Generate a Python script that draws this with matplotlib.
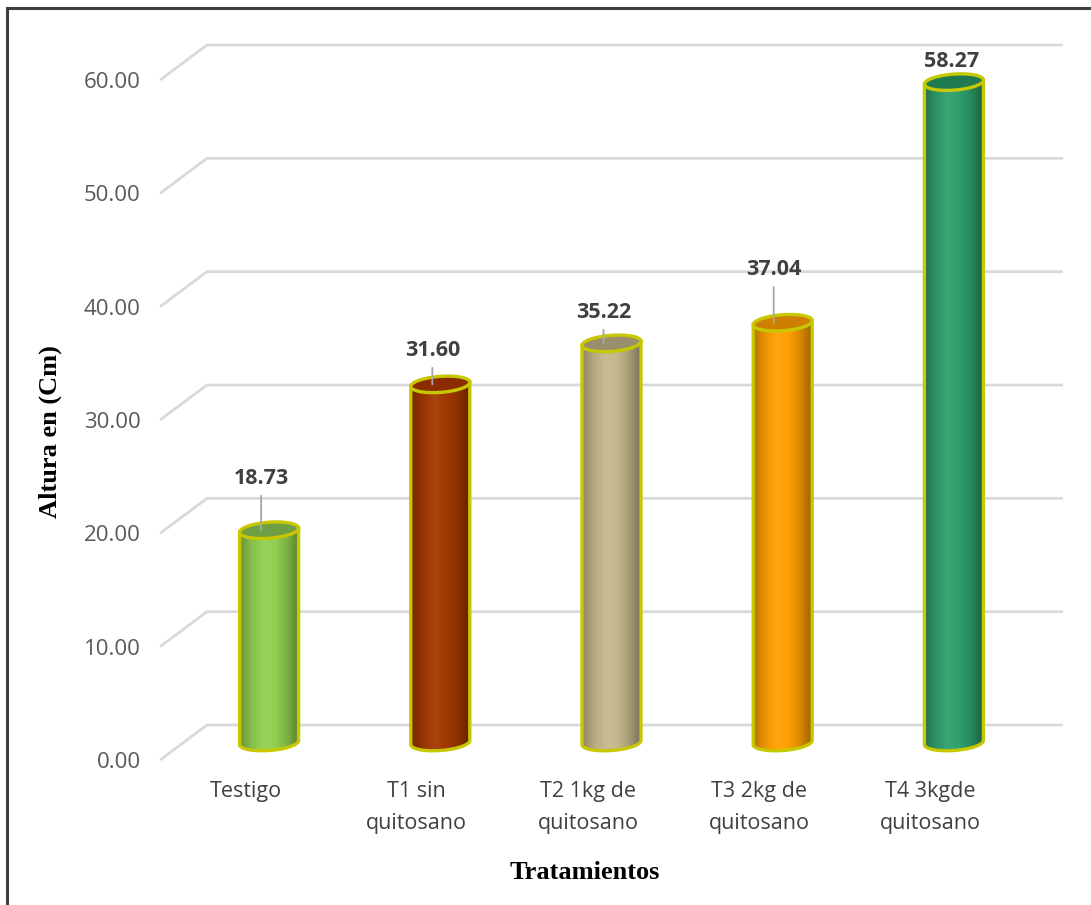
"""Cylinder bar chart of plant height per treatment."""

from __future__ import annotations

import matplotlib

matplotlib.use("Agg")
import matplotlib.pyplot as plt
from matplotlib.colors import LinearSegmentedColormap, to_rgb
from matplotlib.patches import Polygon, Rectangle
import numpy as np

categories = [
    "Testigo",
    "T1 sin\nquitosano",
    "T2 1kg de\nquitosano",
    "T3 2kg de\nquitosano",
    "T4 3kgde\nquitosano",
]
heights = [18.73, 31.60, 35.22, 37.04, 58.27]
y_ticks = [0, 10, 20, 30, 40, 50, 60]

body_colors = ["#92d050", "#a33800", "#c4b88c", "#ffa000", "#2f9f6c"]
top_colors = ["#6f9f45", "#8a2c00", "#9a8f6c", "#cf7f00", "#1f7a52"]
# label offsets above the cylinder top, in pixels (dx, dy) and leader flag
label_offsets = [(-8, 52), (-8, 34), (-8, 31), (-9, 53), (-2, 21)]
show_leader = [True, True, True, True, False]

W, H, DPI = 1091, 905, 100
EDGE = "#c8c800"
DEPTH_PX = (47, 35)  # back wall offset of the floor
HALF_W_PX = 29.5
HALF_H_PX = 8.0
TILT = 0.07


def shade_cmap(color):
    rgb = np.array(to_rgb(color))
    stops = [0.72, 0.92, 1.06, 1.0, 0.85, 0.62]
    cols = []
    for s in stops:
        if s <= 1.0:
            cols.append(rgb * s)
        else:
            cols.append(rgb + (1 - rgb) * (s - 1.0))
    return LinearSegmentedColormap.from_list("shade", np.clip(cols, 0, 1))


def ellipse_pts(cx, cy, sx, sy, t):
    dx = HALF_W_PX * np.cos(t)
    dy = HALF_H_PX * np.sin(t) + TILT * dx
    return np.column_stack([cx + dx / sx, cy + dy / sy])


fig = plt.figure(figsize=(W / DPI, H / DPI), dpi=DPI)
ax_top_px = 30
ax = fig.add_axes([160 / W, (H - 760) / H, 856 / W, (760 - ax_top_px) / H])
ymax = 60 * (760 - ax_top_px) / 680
ax.set_xlim(-0.5, len(categories) - 0.5)
ax.set_ylim(0, ymax)
for s in ax.spines.values():
    s.set_visible(False)

sx = 856 / len(categories)  # pixels per category
sy = 680 / 60  # pixels per unit
ddx, ddy = DEPTH_PX[0] / sx, DEPTH_PX[1] / sy

# floor-to-wall gridlines
for v in y_ticks:
    ax.plot([-0.5, -0.5 + ddx, len(categories) - 0.5 + ddx], [v, v + ddy, v + ddy],
            color="#d9d9d9", lw=2, solid_capstyle="butt", clip_on=False, zorder=1)

t_low = np.linspace(np.pi, 2 * np.pi, 60)
t_up = np.linspace(0, np.pi, 60)
t_all = np.linspace(0, 2 * np.pi, 120)

for i, (val, bc, tc) in enumerate(zip(heights, body_colors, top_colors)):
    cx = i + ddx / 2
    base = ddy / 2
    top = val + ddy / 2
    body = np.vstack([ellipse_pts(cx, base, sx, sy, t_low),
                      ellipse_pts(cx, top, sx, sy, t_up)])
    clip = Polygon(body, closed=True, facecolor="none", edgecolor="none")
    ax.add_patch(clip)
    grad = np.linspace(0, 1, 256).reshape(1, -1)
    hw = HALF_W_PX / sx
    im = ax.imshow(grad, cmap=shade_cmap(bc), aspect="auto", origin="lower",
                   extent=[cx - hw, cx + hw, base - 1.5, top + 1.5], zorder=3,
                   interpolation="bilinear")
    im.set_clip_path(clip)
    # outline: sides and lower rim
    rim = np.vstack([ellipse_pts(cx, top, sx, sy, np.array([np.pi])),
                     ellipse_pts(cx, base, sx, sy, t_low),
                     ellipse_pts(cx, top, sx, sy, np.array([2 * np.pi]))])
    ax.plot(rim[:, 0], rim[:, 1], color=EDGE, lw=2.4, zorder=4,
            solid_joinstyle="round")
    ax.add_patch(Polygon(ellipse_pts(cx, top, sx, sy, t_all), closed=True,
                         facecolor=tc, edgecolor=EDGE, lw=2.4, zorder=5))

    dx, dy = label_offsets[i]
    ax.annotate(
        f"{val:.2f}",
        xy=(cx + dx / sx, top), xytext=(0, dy), textcoords="offset pixels",
        ha="center", va="center", fontsize=15.5, fontweight="bold",
        family="Open Sans", color="#404040", zorder=6,
        arrowprops=dict(arrowstyle="-", color="#a6a6a6", lw=1.3,
                        shrinkA=3, shrinkB=0) if show_leader[i] else None,
    )

ax.set_xlim(-0.5, len(categories) - 0.5)
ax.set_ylim(0, ymax)
ax.set_yticks(y_ticks)
ax.set_yticklabels([f"{v:.2f}" for v in y_ticks], family="Open Sans",
                   fontsize=16, color="#595959")
ax.set_xticks(range(len(categories)))
ax.set_xticklabels(categories, family="Open Sans", fontsize=15.5,
                   color="#404040", linespacing=1.7)
ax.tick_params(length=0)
ax.tick_params(axis="y", pad=14)
ax.tick_params(axis="x", pad=15)

fig.text(585 / W, 1 - 872 / H, "Tratamientos", ha="center", va="center",
         family="Liberation Serif", fontweight="bold", fontsize=19)
fig.text(50 / W, 1 - 432 / H, "Altura en (Cm)", ha="center", va="center",
         rotation=90, family="Liberation Serif", fontweight="bold", fontsize=19)

# chart frame
fig.patches.append(Rectangle((7 / W, -0.1), 1.2, 1 - 8 / H + 0.1,
                             transform=fig.transFigure, fill=False,
                             edgecolor="#3f3f3f", lw=2.2))

fig.savefig("out.png", dpi=DPI)
plt.close(fig)
